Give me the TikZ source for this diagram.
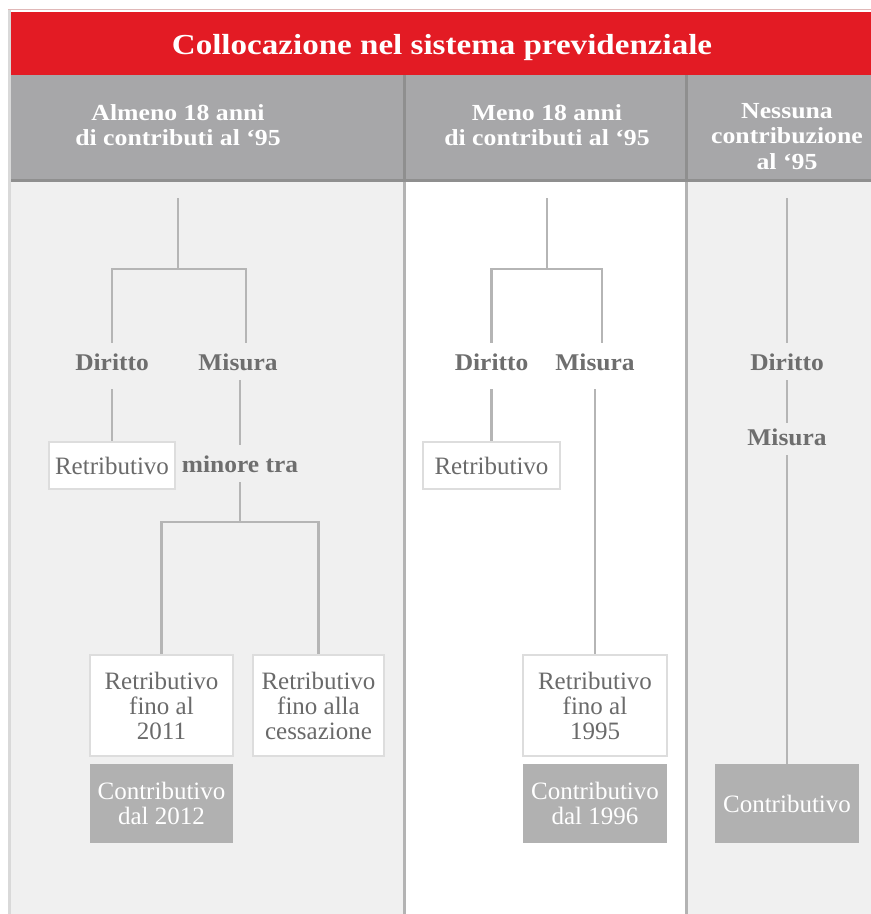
\documentclass[tikz,border=0pt]{standalone}
\usepackage{fontspec}
\setmainfont{Liberation Serif}
\newfontfamily\titlefont[FakeStretch=1.14]{Liberation Serif}
\newfontfamily\headfont[FakeStretch=1.12]{Liberation Serif}
\newfontfamily\lblfont[FakeStretch=1.06]{Liberation Serif}
\definecolor{redcol}{HTML}{E31B24}
\definecolor{headgray}{HTML}{A7A7A9}
\definecolor{divdark}{HTML}{8F8F8F}
\definecolor{divlight}{HTML}{B3B3B3}
\definecolor{panel}{HTML}{F0F0F0}
\definecolor{framecol}{HTML}{D9D9D9}
\definecolor{topline}{HTML}{E0B8B8}
\definecolor{conncol}{HTML}{B5B5B5}
\definecolor{boxline}{HTML}{DDDDDD}
\definecolor{darkbox}{HTML}{B1B1B1}
\definecolor{lbltext}{HTML}{6E6E6E}
\definecolor{boxtext}{HTML}{6A6A6A}
\begin{document}
\begin{tikzpicture}[x=1pt,y=-1pt,
  conn/.style={draw=conncol, line width=2.6pt},
  lbl/.style={font=\lblfont\fontsize{24}{25}\selectfont\bfseries, text=lbltext, text height=17pt, text depth=0pt, inner xsep=2pt, inner ysep=10pt, anchor=base},
  wbox/.style={draw=boxline, line width=2.5pt, fill=white, text=boxtext, font=\fontsize{25}{25}\selectfont, align=center, inner sep=0pt},
  gbox/.style={fill=darkbox, text=white, font=\fontsize{25}{25}\selectfont, align=center, inner sep=0pt},
  head/.style={text=white, font=\headfont\fontsize{23}{25.5}\selectfont\bfseries, align=center, inner sep=0pt}]
\useasboundingbox (0,0) rectangle (871,914);
% backgrounds
\fill[white] (0,0) rectangle (871,914);
\fill[panel] (11,181) rectangle (404,914);
\fill[panel] (686,181) rectangle (871,914);
\fill[framecol] (8,10) rectangle (11,914);
\draw[topline, line width=1pt] (8,9) -- (871,9);
\fill[redcol] (11,12) rectangle (871,75);
\fill[headgray] (11,75) rectangle (871,180);
\draw[divlight, line width=3pt] (404,180) -- (404,914);
\draw[divlight, line width=3pt] (686,180) -- (686,914);
\draw[divdark, line width=3pt] (404,75) -- (404,180);
\draw[divdark, line width=3pt] (686,75) -- (686,180);
\draw[divdark, line width=3pt] (11,180) -- (871,180);
% headers
\node[anchor=base, text=white, font=\titlefont\fontsize{29}{30}\selectfont\bfseries, inner sep=0pt] (title) at (442,54) {Collocazione nel sistema previdenziale};
\node[head] (h1) at (178,125) {Almeno 18 anni\\di contributi al ‘95};
\node[head] (h2) at (547,125) {Meno 18 anni\\di contributi al ‘95};
\node[head] (h3) at (787,136.5) {Nessuna\\contribuzione\\al ‘95};
% left tree
\coordinate (s1) at (178,198);
\coordinate (j1) at (178,269);
\node[lbl] (d1) at (112,370) {Diritto};
\node[lbl] (m1) at (238,370) {Misura};
\node[wbox, minimum width=126pt, minimum height=47pt] (r1) at (112,465.5) {Retributivo};
\node[lbl] (mt) at (240,472) {minore tra};
\coordinate (j2) at (240,522);
\node[wbox, minimum width=143pt, minimum height=101pt] (b1) at (161.5,705.5) {Retributivo\\fino al\\2011};
\node[wbox, minimum width=131pt, minimum height=101pt] (b2) at (318.5,705.5) {Retributivo\\fino alla\\cessazione};
\node[gbox, minimum width=143pt, minimum height=79pt] (c1) at (161.5,803.5) {Contributivo\\dal 2012};
\draw[conn] (s1) -- (j1);
\draw[conn] (d1.north) |- (j1) -| ([xshift=8pt]m1.north);
\draw[conn] ([yshift=-9pt]d1.south) -- (r1.north);
\draw[conn] (m1.south -| mt.north) -- (mt.north);
\draw[conn] (mt.south) -- (j2);
\draw[conn] (b1.north) |- (j2) -| (b2.north);
% middle tree
\coordinate (s2) at (547,198);
\coordinate (j3) at (547,269);
\node[lbl] (d2) at (491.5,370) {Diritto};
\node[lbl] (m2) at (595,370) {Misura};
\node[wbox, minimum width=137pt, minimum height=47pt] (r2) at (491.5,465.5) {Retributivo};
\node[wbox, minimum width=144pt, minimum height=101pt] (b3) at (595,705.5) {Retributivo\\fino al\\1995};
\node[gbox, minimum width=144pt, minimum height=79pt] (c2) at (595,803.5) {Contributivo\\dal 1996};
\draw[conn] (s2) -- (j3);
\draw[conn] (d2.north) |- (j3) -| ([xshift=7pt]m2.north);
\draw[conn] ([yshift=-9pt]d2.south) -- (r2.north);
\draw[conn] ([yshift=-9pt]m2.south) -- (b3.north);
% right tree
\coordinate (s3) at (787,198);
\node[lbl] (d3) at (787,370) {Diritto};
\node[lbl] (m3) at (787,445) {Misura};
\node[gbox, minimum width=144pt, minimum height=79pt] (c3) at (787,803.5) {Contributivo};
\draw[conn] (s3) -- (d3.north);
\draw[conn] (d3.south) -- ([yshift=-5pt]m3.north);
\draw[conn] (m3.south) -- (c3.north);
\end{tikzpicture}
\end{document}
